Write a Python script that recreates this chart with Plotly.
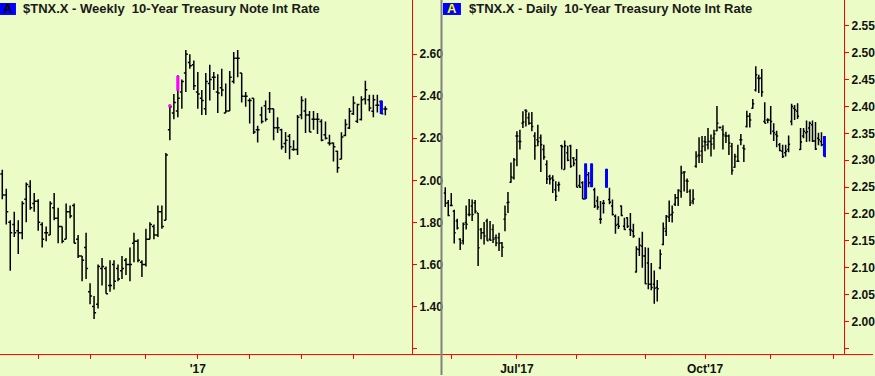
import plotly.graph_objects as go

FIG_W, FIG_H = 875, 376

# ---------------- Weekly $TNX.X (left panel) ----------------
W_HIGH = [2.05, 1.96, 1.81, 1.85, 1.81, 1.90, 1.99, 2.00, 1.94, 1.91,
          1.80, 1.78, 1.90, 1.94, 1.87, 1.78, 1.89, 1.88, 1.89, 1.74,
          1.64, 1.75, 1.51, 1.45, 1.60, 1.63, 1.59, 1.62, 1.62, 1.60,
          1.64, 1.63, 1.68, 1.75, 1.72, 1.62, 1.77, 1.80, 1.79, 1.88,
          1.88, 2.13, 2.36, 2.41, 2.50, 2.48, 2.62, 2.60, 2.57, 2.515,
          2.43, 2.51, 2.55, 2.515, 2.505, 2.53, 2.46, 2.52, 2.61, 2.62,
          2.51, 2.42, 2.39, 2.39, 2.26, 2.35, 2.38, 2.42, 2.34, 2.30,
          2.245, 2.23, 2.22, 2.19, 2.31, 2.40, 2.39, 2.33, 2.33, 2.32,
          2.29, 2.28, 2.217, 2.18, 2.14, 2.228, 2.29, 2.344, 2.40, 2.364,
          2.40, 2.474, 2.407, 2.407, 2.407, 2.379, 2.352]
W_LOW = [1.91, 1.79, 1.57, 1.73, 1.65, 1.72, 1.80, 1.86, 1.85, 1.76,
         1.68, 1.71, 1.74, 1.81, 1.70, 1.70, 1.72, 1.82, 1.70, 1.63,
         1.52, 1.53, 1.41, 1.34, 1.39, 1.50, 1.46, 1.47, 1.48, 1.52,
         1.53, 1.55, 1.52, 1.61, 1.61, 1.54, 1.59, 1.72, 1.72, 1.73,
         1.77, 1.81, 2.19, 2.29, 2.30, 2.34, 2.42, 2.53, 2.43, 2.34,
         2.31, 2.31, 2.38, 2.43, 2.32, 2.40, 2.32, 2.33, 2.46, 2.49,
         2.37, 2.35, 2.27, 2.22, 2.18, 2.27, 2.28, 2.32, 2.19, 2.225,
         2.146, 2.13, 2.10, 2.14, 2.12, 2.29, 2.225, 2.23, 2.24, 2.22,
         2.186, 2.194, 2.165, 2.09, 2.036, 2.10, 2.21, 2.244, 2.31, 2.273,
         2.285, 2.36, 2.328, 2.30, 2.323, 2.315, 2.309]
W_OPEN = [2.03, 1.93, 1.80, 1.79, 1.76, 1.75, 1.91, 1.97, 1.89, 1.90,
          1.79, 1.75, 1.74, 1.87, 1.82, 1.78, 1.72, 1.85, 1.88, 1.72,
          1.64, 1.68, 1.47, 1.40, 1.41, 1.58, 1.58, 1.50, 1.60, 1.58,
          1.57, 1.62, 1.60, 1.70, 1.71, 1.61, 1.60, 1.72, 1.78, 1.74,
          1.85, 1.81, 2.24, 2.32, 2.33, 2.42, 2.51, 2.56, 2.55, 2.42,
          2.39, 2.34, 2.46, 2.49, 2.42, 2.44, 2.32, 2.33, 2.47, 2.58,
          2.51, 2.40, 2.38, 2.39, 2.24, 2.31, 2.355, 2.34, 2.34, 2.25,
          2.24, 2.175, 2.21, 2.146, 2.146, 2.31, 2.33, 2.31, 2.29, 2.29,
          2.28, 2.217, 2.178, 2.178, 2.138, 2.10, 2.213, 2.249, 2.317, 2.281,
          2.289, 2.387, 2.383, 2.328, 2.357, 2.375, 2.339]
W_CLOSE = [1.93, 1.85, 1.75, 1.75, 1.75, 1.89, 1.98, 1.87, 1.90, 1.80,
           1.72, 1.75, 1.89, 1.82, 1.78, 1.71, 1.85, 1.83, 1.70, 1.64,
           1.62, 1.58, 1.45, 1.37, 1.59, 1.59, 1.46, 1.50, 1.52, 1.53,
           1.58, 1.60, 1.60, 1.71, 1.62, 1.60, 1.72, 1.79, 1.74, 1.85,
           1.78, 2.12, 2.35, 2.37, 2.39, 2.47, 2.60, 2.545, 2.45, 2.41,
           2.38, 2.47, 2.48, 2.49, 2.415, 2.43, 2.33, 2.49, 2.58, 2.58,
           2.40, 2.40, 2.38, 2.23, 2.24, 2.28, 2.29, 2.34, 2.25, 2.25,
           2.16, 2.19, 2.16, 2.146, 2.30, 2.38, 2.31, 2.23, 2.29, 2.29,
           2.19, 2.20, 2.175, 2.16, 2.06, 2.206, 2.265, 2.328, 2.368, 2.36,
           2.383, 2.431, 2.344, 2.383, 2.357, 2.317, 2.339]
W_TICK_POS = [9, 22, 36, 49, 62, 75, 88]
W_TICK_TEXT = ["", "", "", "'17", "", "", ""]
W_Y_TICKS = [1.20, 1.40, 1.60, 1.80, 2.00, 2.20, 2.40, 2.60]
W_Y_TEXT = ["", "1.40", "1.60", "1.80", "2.00", "2.20", "2.40", "2.60"]
# highlighted segments (magenta / blue markers)
W_MAG_IDX = [42, 44]
W_MAG_LOW = [2.347, 2.426]
W_MAG_HIGH = [2.360, 2.497]
W_BLUE_IDX = [95]
W_BLUE_LOW = [2.315]
W_BLUE_HIGH = [2.379]

# ---------------- Daily $TNX.X (right panel) ----------------
D_HIGH = [2.250, 2.226, 2.239, 2.208, 2.191, 2.155, 2.184, 2.216, 2.228, 2.227,
          2.226, 2.202, 2.174, 2.185, 2.191, 2.187, 2.181, 2.162, 2.165, 2.148,
          2.216, 2.241, 2.296, 2.304, 2.354, 2.357, 2.391, 2.395, 2.389, 2.390,
          2.352, 2.366, 2.348, 2.329, 2.300, 2.273, 2.272, 2.261, 2.260, 2.329,
          2.337, 2.327, 2.329, 2.306, 2.321, 2.273, 2.261, 2.294, 2.278, 2.294,
          2.249, 2.233, 2.224, 2.226, 2.284, 2.249, 2.227, 2.199, 2.196, 2.216,
          2.193, 2.194, 2.202, 2.182, 2.140,
          2.156, 2.167, 2.138, 2.137, 2.109, 2.095, 2.077, 2.134, 2.184, 2.198,
          2.225, 2.216, 2.237, 2.246, 2.290, 2.279, 2.266, 2.246, 2.246, 2.317,
          2.343, 2.345, 2.345, 2.360, 2.348, 2.357, 2.401, 2.363, 2.365, 2.353,
          2.348, 2.332, 2.312, 2.329, 2.349, 2.329, 2.392, 2.388, 2.414, 2.475,
          2.459, 2.470, 2.408, 2.378, 2.401, 2.369, 2.355, 2.332, 2.329, 2.329,
          2.346, 2.405, 2.403, 2.406, 2.360, 2.360, 2.374, 2.372, 2.374, 2.371,
          2.351, 2.352, 2.345]
D_LOW = [2.213, 2.196, 2.215, 2.145, 2.171, 2.133, 2.143, 2.171, 2.196, 2.187,
         2.201, 2.103, 2.153, 2.143, 2.150, 2.150, 2.146, 2.140, 2.131, 2.120,
         2.168, 2.202, 2.258, 2.264, 2.289, 2.320, 2.360, 2.363, 2.366, 2.354,
         2.301, 2.326, 2.278, 2.301, 2.256, 2.255, 2.239, 2.224, 2.242, 2.283,
         2.283, 2.298, 2.286, 2.289, 2.250, 2.249, 2.228, 2.228, 2.250, 2.250,
         2.211, 2.208, 2.182, 2.201, 2.249, 2.218, 2.197, 2.163, 2.172, 2.196,
         2.170, 2.174, 2.159, 2.156, 2.091,
         2.122, 2.100, 2.069, 2.060, 2.058, 2.033, 2.037, 2.097, 2.142, 2.159,
         2.185, 2.184, 2.215, 2.215, 2.230, 2.242, 2.239, 2.215, 2.218, 2.286,
         2.295, 2.295, 2.317, 2.320, 2.307, 2.320, 2.354, 2.359, 2.320, 2.332,
         2.310, 2.273, 2.286, 2.297, 2.328, 2.297, 2.361, 2.361, 2.396, 2.428,
         2.425, 2.418, 2.369, 2.369, 2.348, 2.336, 2.324, 2.317, 2.304, 2.307,
         2.315, 2.365, 2.375, 2.377, 2.319, 2.341, 2.334, 2.335, 2.334, 2.319,
         2.328, 2.326, 2.307]
D_OPEN = [2.239, 2.221, 2.216, 2.205, 2.187, 2.153, 2.150, 2.184, 2.199, 2.215,
          2.221, 2.202, 2.171, 2.165, 2.187, 2.153, 2.171, 2.156, 2.156, 2.146,
          2.190, 2.221, 2.259, 2.267, 2.345, 2.335, 2.369, 2.393, 2.379, 2.369,
          2.345, 2.338, 2.342, 2.320, 2.292, 2.270, 2.267, 2.245, 2.254, 2.327,
          2.283, 2.314, 2.327, 2.304, 2.301, 2.253, 2.258, 2.228, 2.273, 2.258,
          2.245, 2.224, 2.190, 2.220, 2.252, 2.227, 2.215, 2.196, 2.181, 2.215,
          2.177, 2.193, 2.171, 2.168, 2.092,
          2.134, 2.140, 2.122, 2.109, 2.069, 2.069, 2.063, 2.100, 2.143, 2.168,
          2.194, 2.199, 2.218, 2.230, 2.242, 2.278, 2.262, 2.242, 2.224, 2.289,
          2.310, 2.317, 2.335, 2.329, 2.335, 2.341, 2.355, 2.361, 2.357, 2.345,
          2.345, 2.326, 2.287, 2.298, 2.338, 2.323, 2.363, 2.382, 2.397, 2.431,
          2.453, 2.453, 2.372, 2.375, 2.375, 2.354, 2.348, 2.329, 2.317, 2.314,
          2.320, 2.372, 2.397, 2.391, 2.320, 2.345, 2.351, 2.360, 2.366, 2.336,
          2.341, 2.335, 2.341]
D_CLOSE = [2.220, 2.197, 2.216, 2.165, 2.174, 2.146, 2.181, 2.181, 2.199, 2.199,
           2.205, 2.137, 2.165, 2.159, 2.150, 2.151, 2.153, 2.146, 2.146, 2.138,
           2.199, 2.222, 2.269, 2.301, 2.345, 2.335, 2.371, 2.391, 2.369, 2.363,
           2.327, 2.335, 2.329, 2.306, 2.265, 2.265, 2.263, 2.233, 2.255, 2.325,
           2.327, 2.300, 2.289, 2.294, 2.250, 2.250, 2.228, 2.283, 2.258, 2.283,
           2.215, 2.213, 2.190, 2.220, 2.276, 2.222, 2.199, 2.179, 2.177, 2.197,
           2.171, 2.177, 2.170, 2.159, 2.135,
           2.142, 2.122, 2.070, 2.069, 2.063, 2.062, 2.061, 2.125, 2.173, 2.196,
           2.198, 2.203, 2.230, 2.244, 2.276, 2.278, 2.261, 2.221, 2.228, 2.307,
           2.309, 2.326, 2.334, 2.335, 2.330, 2.349, 2.369, 2.361, 2.348, 2.345,
           2.332, 2.281, 2.307, 2.298, 2.338, 2.321, 2.382, 2.375, 2.405, 2.459,
           2.452, 2.427, 2.369, 2.375, 2.372, 2.351, 2.345, 2.318, 2.307, 2.317,
           2.330, 2.400, 2.394, 2.382, 2.334, 2.354, 2.353, 2.369, 2.336, 2.321,
           2.338, 2.329, 2.307]
D_TICK_POS = [2, 24, 44, 67, 87, 109, 130]
D_TICK_TEXT = ["", "Jul'17", "", "", "Oct'17", "", ""]
D_Y_TICKS = [1.95, 2.00, 2.05, 2.10, 2.15, 2.20, 2.25, 2.30, 2.35, 2.40, 2.45, 2.50, 2.55]
D_Y_TEXT = ["", "2.00", "2.05", "2.10", "2.15", "2.20", "2.25", "2.30", "2.35", "2.40",
            "2.45", "2.50", "2.55"]
D_BLUE_IDX = [47, 49, 54, 127]
D_BLUE_LOW = [2.228, 2.250, 2.249, 2.307]
D_BLUE_HIGH = [2.294, 2.294, 2.284, 2.345]

TITLE_W = "$TNX.X - Weekly\u00a0 10-Year Treasury Note Int Rate"
TITLE_D = "$TNX.X - Daily\u00a0 10-Year Treasury Note Int Rate"

BG = "#ECFCC6"
FONT = "Liberation Sans, Arial, sans-serif"


def px(x):
    return x / FIG_W


def py(y):
    return 1 - y / FIG_H


def ohlc(x, o, h, l, c, color, width, tickwidth, xa, ya):
    line = dict(color=color, width=width)
    return go.Ohlc(x=x, open=o, high=h, low=l, close=c,
                   increasing=dict(line=line), decreasing=dict(line=line),
                   tickwidth=tickwidth, xaxis=xa, yaxis=ya, hoverinfo="skip", showlegend=False)


fig = go.Figure()
fig.add_trace(ohlc(list(range(len(W_OPEN))), W_OPEN, W_HIGH, W_LOW, W_CLOSE, "#000000", 1.5, 0.5, "x", "y"))
fig.add_trace(ohlc(W_MAG_IDX, W_MAG_LOW, W_MAG_HIGH, W_MAG_LOW, W_MAG_HIGH, "#FF00FF", 3.2, 0, "x", "y"))
fig.add_trace(ohlc(W_BLUE_IDX, W_BLUE_HIGH, W_BLUE_HIGH, W_BLUE_LOW, W_BLUE_LOW, "#0000FF", 3.2, 0, "x", "y"))
fig.add_trace(ohlc(list(range(len(D_OPEN))), D_OPEN, D_HIGH, D_LOW, D_CLOSE, "#000000", 1.5, 0.5, "x2", "y2"))
fig.add_trace(ohlc(D_BLUE_IDX, D_BLUE_LOW, D_BLUE_HIGH, D_BLUE_LOW, D_BLUE_HIGH, "#0000FF", 3.0, 0, "x2", "y2"))

tickfont = dict(family=FONT, size=12, color="#111111", weight="bold")
ydom = [21 / FIG_H, 1]

common_x = dict(ticks="outside", ticklen=4, tickwidth=1, tickcolor="#FF0000", showgrid=False,
                zeroline=False, showline=False, rangeslider=dict(visible=False), tickfont=tickfont,
                fixedrange=True)
common_y = dict(side="right", showline=True, linecolor="#FF0000", linewidth=1, ticks="outside",
                ticklen=4, tickwidth=1, tickcolor="#FF0000", showgrid=False, zeroline=False,
                tickfont=tickfont, domain=ydom, fixedrange=True)

fig.update_layout(
    width=FIG_W, height=FIG_H, margin=dict(l=0, r=0, t=0, b=0),
    paper_bgcolor=BG, plot_bgcolor=BG, showlegend=False,
    xaxis=dict(domain=[0, px(413)], range=[-0.575, 102.7], tickvals=W_TICK_POS, ticktext=W_TICK_TEXT,
               anchor="y", **common_x),
    yaxis=dict(range=[1.1735, 2.8576], tickvals=W_Y_TICKS, ticktext=W_Y_TEXT, anchor="x", **common_y),
    xaxis2=dict(domain=[px(443), px(846)], range=[-1.1, 133.57], tickvals=D_TICK_POS, ticktext=D_TICK_TEXT,
                anchor="y2", **common_x),
    yaxis2=dict(range=[1.9393, 2.5983], tickvals=D_Y_TICKS, ticktext=D_Y_TEXT, anchor="x2", **common_y),
)

shapes = [
    dict(type="line", xref="paper", yref="paper", x0=0, x1=1, y0=py(355.5), y1=py(355.5),
         line=dict(color="#FF0000", width=1)),
    dict(type="line", xref="paper", yref="paper", x0=px(442.5), x1=px(442.5), y0=0, y1=1,
         line=dict(color="#808080", width=2)),
    dict(type="rect", xref="paper", yref="paper", x0=px(0), x1=px(16), y0=py(15), y1=py(3),
         fillcolor="#0000FF", line=dict(width=0)),
    dict(type="rect", xref="paper", yref="paper", x0=px(444), x1=px(462), y0=py(15), y1=py(3),
         fillcolor="#0000FF", line=dict(width=0)),
]
fig.update_layout(shapes=shapes)

title_font = dict(family=FONT, size=13, color="#1A1A1A", weight="bold")
fig.add_annotation(x=px(8), y=py(9), xref="paper", yref="paper", text="A", showarrow=False,
                   xanchor="center", yanchor="middle", font=dict(family=FONT, size=13, color="#000000", weight="bold"))
fig.add_annotation(x=px(453), y=py(9), xref="paper", yref="paper", text="A", showarrow=False,
                   xanchor="center", yanchor="middle", font=dict(family=FONT, size=13, color="#FFFF00", weight="bold"))
fig.add_annotation(x=px(21), y=py(9), xref="paper", yref="paper", text=TITLE_W, showarrow=False,
                   xanchor="left", yanchor="middle", font=title_font)
fig.add_annotation(x=px(468), y=py(9), xref="paper", yref="paper", text=TITLE_D, showarrow=False,
                   xanchor="left", yanchor="middle", font=title_font)

fig.write_html("out.html", config={"displayModeBar": False, "staticPlot": True},
               post_script="document.body.style.margin='0';document.body.style.padding='0';"
                           "document.body.style.overflow='hidden';")
